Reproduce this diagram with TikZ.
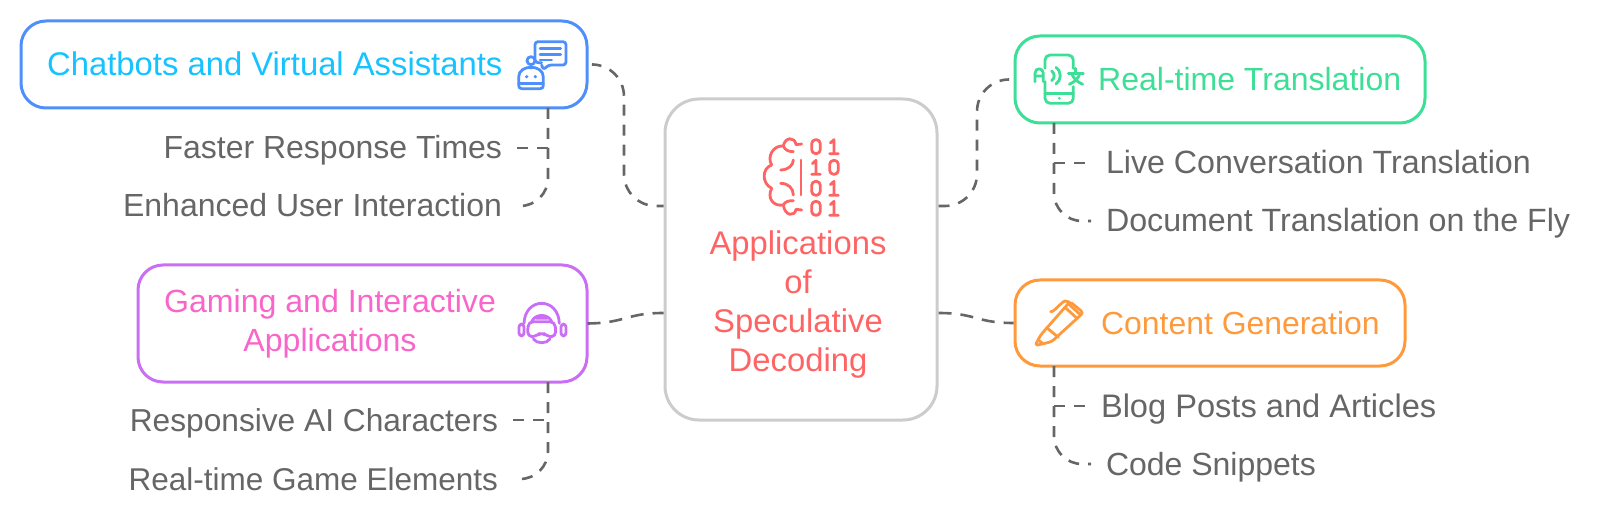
\documentclass[tikz,border=0pt]{standalone}
\usepackage{fontspec}
\setmainfont{Liberation Sans}
\usetikzlibrary{positioning, calc}
\definecolor{chatblue}{HTML}{4F8FFB}
\definecolor{chatcyan}{HTML}{14C3FF}
\definecolor{transgreen}{HTML}{3DDE95}
\definecolor{gamepurple}{HTML}{C96EF5}
\definecolor{gamepink}{HTML}{F766C8}
\definecolor{contentorange}{HTML}{FF9A3C}
\definecolor{hubred}{HTML}{FF6464}
\definecolor{hubgray}{HTML}{CCCCCC}
\definecolor{linkgray}{HTML}{666666}
\tikzset{
  topicbox/.style={draw, line width=3pt, rounded corners=25pt, inner sep=0pt},
  topiclabel/.style={inner sep=0pt, align=center, font=\fontsize{#1}{38.8}\selectfont},
  topiclabel/.default=32.8,
  subleft/.style={anchor=east, inner ysep=0pt, inner xsep=0pt, outer xsep=15pt, text height=26pt, text depth=4pt, text=linkgray, font=\fontsize{#1}{36}\selectfont},
  subleft/.default=32,
  subright/.style={subleft=#1, anchor=west},
  subright/.default=32,
  link/.style={draw=linkgray, line width=2.6pt, dash pattern=on 11pt off 9pt},
  shortlink/.style={link, dash pattern=on 13pt off 9pt},
  icon/.style={line width=2.8pt, line cap=round, line join=round},
  bitzero/.pic={\draw[rounded corners=4pt] (-13,-21) rectangle (13,21);},
  bitone/.pic={\draw (-11,-11) -- (0,-21) -- (0,21) (-13,21) -- (13,21);}
}
\begin{document}
\begin{tikzpicture}[x=1pt,y=-1pt]
\useasboundingbox (0,0) rectangle (1600,518);

% Center box
\node[topicbox, draw=hubgray, minimum width=272pt, minimum height=321pt, rounded corners=34pt] (hub) at (801,259.5) {};
\node[topiclabel, text=hubred] (hublabel) at (798,304.5) {Applications\\of\\Speculative\\Decoding};

% Topic 1: Chatbots
\node[topicbox, draw=chatblue, minimum width=566pt, minimum height=87pt] (chat) at (304,64.5) {};
\node[topiclabel, text=chatcyan, anchor=west] (chatlabel) at (47,64) {Chatbots and Virtual Assistants};
\node[subleft] (faster) at (517,148) {Faster Response Times};
\node[subleft] (enhanced) at (517,206) {Enhanced User Interaction};
\coordinate (chatdrop) at (548,108);

% Topic 2: Translation
\node[topicbox, draw=transgreen, minimum width=410pt, minimum height=87pt] (trans) at (1220,79.5) {};
\node[topiclabel=32, text=transgreen, anchor=west] (translabel) at (1098,79) {Real-time Translation};
\node[subright=32.2] (live) at (1091,163) {Live Conversation Translation};
\node[subright=32.2] (doc) at (1091,221) {Document Translation on the Fly};
\coordinate (transdrop) at (1054,123);

% Topic 3: Gaming
\node[topicbox, draw=gamepurple, minimum width=449pt, minimum height=117pt] (game) at (362.5,323.5) {};
\node[topiclabel=32.1, text=gamepink] (gamelabel) at (330,324) {Gaming and Interactive\\Applications};
\node[subleft=31.7] (characters) at (513,420) {Responsive AI Characters};
\node[subleft=31.5] (elements) at (513,479) {Real-time Game Elements};
\coordinate (gamedrop) at (548,382);

% Topic 4: Content
\node[topicbox, draw=contentorange, minimum width=390pt, minimum height=86pt] (content) at (1210,323) {};
\node[topiclabel=31.9, text=contentorange, anchor=west] (contentlabel) at (1101,323) {Content Generation};
\node[subright=32.6] (blog) at (1086,406) {Blog Posts and Articles};
\node[subright] (snippets) at (1091,464) {Code Snippets};
\coordinate (contentdrop) at (1054,366);

% Links to the center box
\draw[link, rounded corners=32pt] ([xshift=5pt]chat.east) -- (624,64.5) -- (624,206) -- ([yshift=53.5pt]hub.west);
\draw[link, rounded corners=32pt] ([yshift=53.5pt]hub.east) -- (977,206) -- (977,79.5) -- ([xshift=-5pt]trans.west);
\draw[shortlink] ([xshift=-1pt]game.east) .. controls (626,323) and (626,313) .. ([yshift=-53.5pt]hub.west);
\draw[shortlink] ([yshift=-53.5pt]hub.east) .. controls (976,313) and (976,323) .. (content.west);

% Links to the sub items
\foreach \drop/\first/\last in {chatdrop/faster/enhanced, gamedrop/characters/elements} {
  \draw[link, rounded corners=28pt] (\drop) |- (\last.east);
  \draw[link] (\first.east) -- (\first.east -| \drop);
}
\foreach \drop/\first/\last in {transdrop/live/doc, contentdrop/blog/snippets} {
  \draw[link, rounded corners=28pt] (\drop) |- (\last.west);
  \draw[link] (\first.west -| \drop) -- (\first.west);
}

% Icon: robot with speech bubble
\begin{scope}[shift={(480,20)}, x=0.3333pt, y=-0.3333pt, icon, draw=chatblue]
\draw[rounded corners=3pt] (185,128) -- (165,128) -- (165,65) -- (258,65) -- (258,135) -- (205,135) -- (190,150) -- (185,135);
\draw (180,85) -- (242,85) (180,103) -- (242,103) (180,120) -- (215,120);
\draw (153,122) circle (4pt);
\draw (153,135) -- (153,145);
\draw[rounded corners=3pt] (116,206) -- (116,180) .. controls (116,132) and (190,132) .. (190,180) -- (190,206) -- cycle;
\draw (116,190) -- (190,190);
\fill[chatblue] (140,170) circle (1.8pt) (166,170) circle (1.8pt);
\end{scope}

% Icon: brain with bits
\begin{scope}[shift={(740,120)}, x=0.3333pt, y=-0.3333pt, icon, draw=hubred]
\draw (185,72) -- (168,74) .. controls (165,50) and (135,50) .. (130,78) .. controls (100,75) and (80,110) .. (95,135) .. controls (65,145) and (65,190) .. (95,205) .. controls (80,235) and (100,260) .. (130,255) .. controls (135,290) and (165,290) .. (168,268) -- (185,270);
\draw (130,78) .. controls (135,90) and (145,95) .. (160,95) (130,255) .. controls (135,245) and (145,242) .. (160,242);
\draw (122,150) .. controls (145,150) and (160,135) .. (160,120) (122,190) .. controls (145,190) and (160,205) .. (160,225);
\draw (183,120) -- (183,225);
\foreach \y/\left/\right in {80/bitzero/bitone, 142/bitone/bitzero, 205/bitzero/bitone, 265/bitzero/bitone} {
  \pic at (228,\y) {\left};
  \pic at (282,\y) {\right};
}
\end{scope}

% Icon: phone with letters
\begin{scope}[shift={(1010,40)}, x=0.3333pt, y=-0.3333pt, icon, draw=transgreen]
\draw[rounded corners=5pt] (105,85) -- (105,45) -- (190,45) -- (190,85);
\draw[rounded corners=5pt] (105,125) -- (105,190) -- (190,190) -- (190,140);
\draw (105,160) -- (190,160);
\fill[transgreen] (148,175) circle (1.5pt);
\draw (75,125) -- (75,100) .. controls (75,82) and (100,82) .. (100,100) -- (100,125) (75,108) -- (100,108);
\draw (125,93) .. controls (135,100) and (135,115) .. (125,122) (138,82) .. controls (155,95) and (155,120) .. (138,132);
\draw (175,100) -- (220,100) (197,85) -- (197,100);
\draw (210,100) .. controls (205,115) and (195,125) .. (178,133) (185,100) .. controls (190,115) and (200,125) .. (218,133);
\end{scope}

% Icon: headset
\begin{scope}[shift={(500,280)}, x=0.3333pt, y=-0.3333pt, icon, draw=gamepurple]
\draw (72,130) .. controls (75,50) and (175,50) .. (178,130);
\draw[rounded corners=3pt] (57,132) rectangle (72,168) (183,132) rectangle (198,168);
\draw[rounded corners=5pt] (85,125) -- (165,125) -- (168,170) -- (142,170) -- (125,155) -- (108,170) -- (82,170) -- cycle;
\draw (95,125) .. controls (105,100) and (145,100) .. (155,125) (108,115) -- (142,115);
\draw (100,177) .. controls (110,192) and (140,192) .. (150,177);
\end{scope}

% Icon: pen
\begin{scope}[shift={(1020,280)}, x=0.3333pt, y=-0.3333pt, icon, draw=contentorange]
\draw[rounded corners=3pt] (62,165) -- (150,65) -- (190,98) -- (95,185) -- (45,197) -- cycle;
\draw (80,143) -- (115,172) (135,82) -- (172,116) (147,73) -- (182,105);
\draw (92,95) .. controls (102,97) and (125,65) .. (135,63) -- (148,66);
\draw (55,180) -- (70,192);
\end{scope}
\end{tikzpicture}
\end{document}
